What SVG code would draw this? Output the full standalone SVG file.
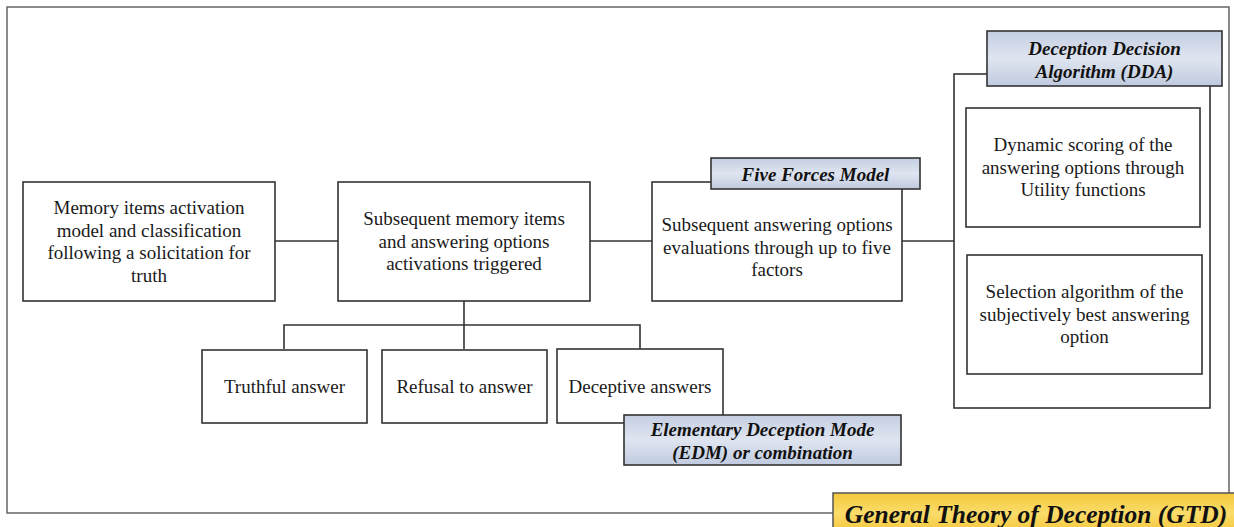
<svg xmlns="http://www.w3.org/2000/svg" width="1234" height="527" viewBox="0 0 1234 527">
<style>
.box{fill:#ffffff;stroke:#333333;stroke-width:1.6}
.lbl{fill:url(#blue);stroke:#333333;stroke-width:1.6}
.frame{fill:none;stroke:#666666;stroke-width:1.5}
.con{fill:none;stroke:#333333;stroke-width:1.6}
.t{font-family:"Liberation Serif","Times New Roman",serif;font-size:19px;fill:#1a1a1a;text-anchor:middle}
.bi{font-family:"Liberation Serif","Times New Roman",serif;font-size:19px;font-weight:bold;font-style:italic;fill:#111111;text-anchor:middle}
.gtd{font-family:"Liberation Serif","Times New Roman",serif;font-size:25.5px;font-weight:bold;font-style:italic;fill:#111111;text-anchor:middle}
</style>
<defs>
<linearGradient id="blue" x1="0" y1="0" x2="0" y2="1">
<stop offset="0" stop-color="#c4cee2"/>
<stop offset="0.5" stop-color="#dfe5f0"/>
<stop offset="1" stop-color="#c0cadf"/>
</linearGradient>
<linearGradient id="gold" x1="0" y1="0" x2="0" y2="1">
<stop offset="0" stop-color="#f3c93c"/>
<stop offset="0.5" stop-color="#fbdc6a"/>
<stop offset="1" stop-color="#f3c63a"/>
</linearGradient>
</defs>
<rect width="1234" height="527" fill="#ffffff"/>
<g id="frame">
<path class="frame" d="M833,513 H7 V7 H1229 V493"/>
</g>
<g id="connectors">
<line class="con" x1="275" y1="241" x2="338" y2="241"/>
<line class="con" x1="590" y1="241" x2="652" y2="241"/>
<line class="con" x1="902" y1="241" x2="954" y2="241"/>
<line class="con" x1="464" y1="301" x2="464" y2="349"/>
<path class="con" d="M284,349 V325 H640 V349"/>
</g>
<g id="memory-activation">
<rect class="box" x="23" y="182" width="252" height="119"/>
<text class="t" x="149" y="214">Memory items activation</text>
<text class="t" x="149" y="236.5">model and classification</text>
<text class="t" x="149" y="259">following a solicitation for</text>
<text class="t" x="149" y="281.5">truth</text>
</g>
<g id="subsequent-memory">
<rect class="box" x="338" y="182" width="252" height="119"/>
<text class="t" x="464" y="225">Subsequent memory items</text>
<text class="t" x="464" y="247.5">and answering options</text>
<text class="t" x="464" y="270">activations triggered</text>
</g>
<g id="answer-evaluations">
<rect class="box" x="652" y="182" width="250" height="119"/>
<text class="t" x="777" y="231">Subsequent answering options</text>
<text class="t" x="777" y="253.5">evaluations through up to five</text>
<text class="t" x="777" y="276">factors</text>
</g>
<g id="five-forces">
<rect class="lbl" x="711" y="158" width="209" height="31"/>
<text class="bi" x="815.5" y="181">Five Forces Model</text>
</g>
<g id="dda">
<rect class="box" x="954" y="74" width="256" height="334"/>
<rect class="box" x="966" y="108" width="234" height="119"/>
<text class="t" x="1083" y="151">Dynamic scoring of the</text>
<text class="t" x="1083" y="173.5">answering options through</text>
<text class="t" x="1083" y="196">Utility functions</text>
<rect class="box" x="967" y="255" width="235" height="119"/>
<text class="t" x="1084.5" y="298">Selection algorithm of the</text>
<text class="t" x="1084.5" y="320.5">subjectively best answering</text>
<text class="t" x="1084.5" y="343">option</text>
</g>
<g id="dda-label">
<rect class="lbl" x="987" y="31" width="235" height="55"/>
<text class="bi" x="1104.5" y="55">Deception Decision</text>
<text class="bi" x="1104.5" y="78">Algorithm (DDA)</text>
</g>
<g id="truthful">
<rect class="box" x="202" y="350" width="165" height="73"/>
<text class="t" x="284.5" y="393">Truthful answer</text>
</g>
<g id="refusal">
<rect class="box" x="382" y="350" width="165" height="73"/>
<text class="t" x="464.5" y="393">Refusal to answer</text>
</g>
<g id="deceptive">
<rect class="box" x="557" y="349" width="166" height="74"/>
<text class="t" x="640" y="393">Deceptive answers</text>
</g>
<g id="edm">
<rect class="lbl" x="624" y="415" width="277" height="50"/>
<text class="bi" x="762.5" y="436">Elementary Deception Mode</text>
<text class="bi" x="762.5" y="459">(EDM) or combination</text>
</g>
<g id="gtd">
<rect x="833" y="493" width="410" height="40" fill="url(#gold)" stroke="#555555" stroke-width="1.5"/>
<text class="gtd" x="1036" y="523">General Theory of Deception (GTD)</text>
</g>
</svg>
